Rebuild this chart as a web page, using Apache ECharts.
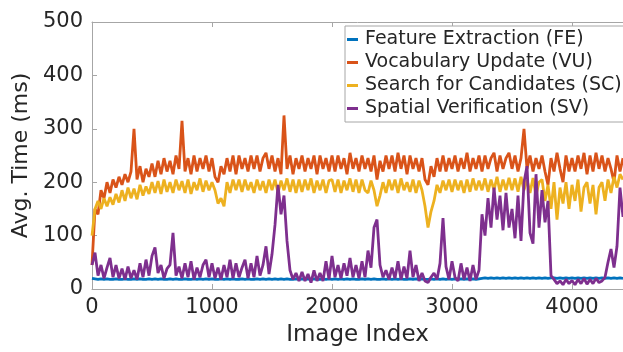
<!DOCTYPE html>
<html>
<head>
<meta charset="utf-8">
<style>
  html, body { margin: 0; padding: 0; background: #fff; }
  #main { width: 623px; height: 352px; }
</style>
</head>
<body>
<div id="main"></div>
<script src="https://cdn.jsdelivr.net/npm/echarts@6/dist/echarts.min.js"></script>
<script type="text/javascript">
// one value every STEP images
var STEP = 25;

var seriesNames = ['Feature Extraction (FE)', 'Vocabulary Update (VU)', 'Search for Candidates (SC)', 'Spatial Verification (SV)'];
var seriesColors = ['#0072BD', '#D95319', '#EDB120', '#7E2F8E'];

var feTime = [
  20,19,18,19,18,19,18,18,19,18, 18,19,18,18,19,18,19,18,18,19,
  18,19,18,19,18,18,19,18,19,18, 18,19,18,18,19,18,19,18,19,18,
  19,18,18,19,18,19,18,19,18,18, 19,18,19,18,18,19,18,19,18,19,
  18,19,18,19,18,19,18,18,19,18, 19,18,19,18,19,18,18,19,18,19,
  18,19,18,19,18,19,18,19,18,18, 19,18,19,18,19,18,18,19,18,19,
  18,19,18,19,18,18,19,18,19,18, 19,18,18,19,18,19,18,19,18,19,
  18,19,18,19,18,19,18,19,18,19, 20,21,20,21,20,21,20,21,20,21,
  20,21,20,21,20,21,20,21,20,21, 20,21,20,21,21,20,21,20,21,20,
  21,20,21,20,21,20,21,20,21,20, 21,20,21,20,21,20,21,20
];

var vuTime = [
  45,150,140,185,170,200,180,205,190,210, 195,215,200,220,300,205,230,200,225,210,
  235,210,240,215,245,220,240,215,250,225, 315,220,245,215,250,220,245,225,250,220,
  245,210,200,230,215,245,220,250,215,250, 225,245,220,250,225,250,220,245,255,225,
  250,220,245,215,325,225,250,215,245,225, 250,220,245,225,250,215,250,225,245,220,
  250,220,250,225,245,215,255,225,245,220, 250,225,245,220,250,205,240,220,250,225,
  250,220,255,225,250,215,250,225,245,220, 245,205,195,230,210,245,220,250,220,245,
  225,250,220,245,225,255,220,245,225,250, 220,250,225,245,255,220,250,225,245,255,
  225,250,220,245,300,225,250,220,245,225, 250,220,195,245,220,255,225,200,250,220,
  245,220,250,225,255,215,250,220,255,225, 250,220,245,225,200,250,220,245
];

var scTime = [
  100,150,165,150,170,155,172,158,178,162, 185,165,190,170,188,168,195,175,192,178,
  200,180,202,178,205,182,200,180,205,185, 202,180,205,178,200,185,207,182,203,185,
  200,185,160,170,155,200,180,205,185,205, 182,205,185,200,180,205,185,202,180,205,
  185,205,180,203,185,207,182,205,180,205, 182,205,185,207,180,203,185,205,180,203,
  205,182,205,180,203,185,207,182,205,180, 205,185,180,203,185,155,175,200,180,205,
  185,205,180,207,185,200,182,205,180,203, 185,155,115,145,165,195,180,203,185,205,
  182,205,185,203,180,205,182,207,185,203, 185,207,182,205,185,210,182,205,185,208,
  185,207,182,210,185,205,180,208,175,200, 205,165,195,150,200,130,190,160,200,150,
  195,165,205,145,190,200,160,195,140,190, 200,165,205,180,210,190,215,205
];

var svTime = [
  45,68,25,45,20,40,58,22,45,20, 38,18,42,20,35,18,48,22,55,25,
  62,78,30,45,20,38,45,105,25,42, 20,48,22,52,18,40,22,45,55,22,
  48,20,40,18,45,22,55,20,48,22, 40,55,20,48,22,62,25,45,80,28,
  65,120,195,140,175,90,35,18,30,15, 32,15,28,12,35,15,30,15,52,18,
  62,22,45,20,48,25,58,22,45,20, 52,22,72,40,115,130,45,22,35,18,
  40,20,52,18,42,20,72,22,45,15, 30,15,12,22,30,18,48,133,42,18,
  52,22,15,48,18,40,15,45,18,35, 140,100,170,115,190,130,175,110,180,115,
  150,95,175,90,200,230,105,85,215,115, 185,125,165,25,18,10,15,8,18,10,
  16,8,18,10,20,9,18,10,20,12, 15,22,50,75,40,80,190,135
];

function toPairs(arr) {
  return arr.map(function (v, i) { return [i * STEP, v]; });
}

var allValues = [feTime, vuTime, scTime, svTime];

var axisGray = '#a6a6a6';
var textColor = '#262626';
var fontFam = 'DejaVu Sans';

var myChart = echarts.init(document.getElementById('main'));

var series = allValues.map(function (vals, k) {
  return {
    name: seriesNames[k],
    type: 'line',
    data: toPairs(vals),
    showSymbol: false,
    symbol: 'none',
    lineStyle: { color: seriesColors[k], width: 2.8 },
    itemStyle: { color: seriesColors[k] },
    z: 2 + k
  };
});

myChart.setOption({
  animation: false,
  textStyle: { fontFamily: fontFam },
  grid: { left: 92, top: 22, right: 0, bottom: 60 },
  legend: {
    orient: 'vertical',
    left: 345,
    top: 26,
    padding: [4, 10, 4, 2],
    itemGap: 4,
    itemWidth: 11,
    itemHeight: 3,
    icon: 'rect',
    backgroundColor: '#fff',
    borderColor: axisGray,
    borderWidth: 1,
    borderRadius: 0,
    textStyle: { fontFamily: fontFam, fontSize: 19, lineHeight: 19, color: textColor, padding: [0, 0, 0, 2] },
    data: seriesNames
  },
  xAxis: [{
    type: 'value',
    min: 0,
    max: 4425,
    interval: 1000,
    name: 'Image Index',
    nameLocation: 'middle',
    nameGap: 35,
    nameTextStyle: { fontFamily: fontFam, fontSize: 23, color: textColor },
    axisLine: { show: true, lineStyle: { color: axisGray, width: 1 } },
    axisTick: { show: true, inside: true, length: 5, lineStyle: { color: axisGray } },
    axisLabel: {
      fontFamily: fontFam, fontSize: 21, color: textColor, margin: 8,
      formatter: function (v) { return String(v); }
    },
    splitLine: { show: false }
  }, {
    type: 'value',
    position: 'top',
    min: 0,
    max: 4425,
    interval: 1000,
    axisLine: { show: true, lineStyle: { color: axisGray, width: 1 } },
    axisTick: { show: true, inside: true, length: 5, lineStyle: { color: axisGray } },
    axisLabel: { show: false },
    splitLine: { show: false }
  }],
  yAxis: {
    type: 'value',
    min: 0,
    max: 500,
    interval: 100,
    name: 'Avg. Time (ms)',
    nameLocation: 'middle',
    nameRotate: 90,
    nameGap: 58,
    nameTextStyle: { fontFamily: fontFam, fontSize: 22, color: textColor },
    axisLine: { show: true, lineStyle: { color: axisGray, width: 1 } },
    axisTick: { show: true, inside: true, length: 5, lineStyle: { color: axisGray } },
    axisLabel: { fontFamily: fontFam, fontSize: 21, color: textColor, margin: 9 },
    splitLine: { show: false }
  },
  series: series
});
</script>
</body>
</html>
